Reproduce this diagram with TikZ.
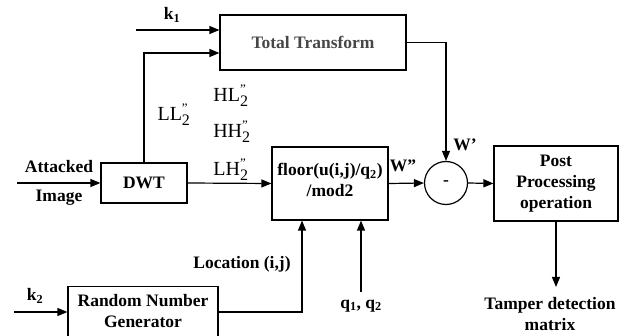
\documentclass[tikz,border=0pt]{standalone}
\usepackage{fontspec}
\setmainfont{Liberation Serif}
\usetikzlibrary{arrows.meta,calc}
\begin{document}
\begin{tikzpicture}[x=1pt,y=-1pt,
  box/.style={draw,line width=1.2pt,minimum width=#1,inner sep=0pt,align=center,
    font=\bfseries\fontsize{17.5}{21}\selectfont},
  arr/.style={line width=1.2pt,-{Triangle[length=10pt,width=8pt]}},
  ln/.style={line width=1.2pt},
  bl/.style={font=\bfseries\fontsize{17.5}{21}\selectfont,inner sep=0pt,align=center},
  rl/.style={font=\fontsize{20}{24}\selectfont,inner sep=0pt}]
\useasboundingbox (0,0) rectangle (623,336);
\newcommand\bandlab[1]{#1$^{\hbox{\fontsize{13}{13}\selectfont\symbol{34}}}_{\hbox{\fontsize{16}{16}\selectfont 2}}$}
% boxes
\node[box=186pt,minimum height=55pt,text=black!72] (tt) at (313,42.5) {Total Transform};
\node[box=86pt,minimum height=40pt] (dwt) at (144,183) {DWT};
\node[box=116pt,minimum height=73pt] (fl) at (330,183.5) {};
\node[bl] (flt) at (330,180) {floor(u(i,j)/q\textsubscript{2})\\/mod2};
\node[draw,circle,line width=1.2pt,minimum size=43pt,inner sep=0pt,font=\bfseries\fontsize{17.5}{21}\selectfont] (cir) at (446,183) {-};
\node[box=124pt,minimum height=75pt] (post) at (556,183.5) {Post\\Processing\\operation};
\node[box=150pt,minimum height=56pt,anchor=north] (rng) at (143,286) {};
\node[bl] (rngt) at (143,311.5) {Random Number\\Generator};
% free ends
\coordinate (k1s) at (136,30);
\coordinate (ins) at (17,183);
\coordinate (k2s) at (14,312);
\coordinate (qs) at (361,292);
\coordinate (tdm) at (556,287);
% connectors
\draw[arr] (k1s) -- (k1s -| tt.west);
\draw[arr] (dwt.north) |- ([yshift=-10.5pt]tt.west);
\draw[arr] (ins) -- (dwt.west);
\draw[arr] (dwt.east) -- (fl.west);
\draw[arr] (fl.east) -- (cir.west);
\draw[arr] (tt.east) -| (cir.north);
\draw[arr] (cir.east) -- (post.west);
\draw[arr] (post.south) -- (tdm);
\draw[arr] (k2s) -- (k2s -| rng.west);
\draw[arr] (k2s -| rng.east) -| ([xshift=-28pt]fl.south);
\draw[arr] (qs) -- (qs |- fl.south);
% labels
\node[bl] (k1) at (172,15) {k\textsubscript{1}};
\node[bl] (k2) at (35,296) {k\textsubscript{2}};
\node[bl] (att) at (59,167) {Attacked};
\node[bl] (img) at (59,198) {Image};
\node[rl] (ll) at (174,115) {\bandlab{LL}};
\node[rl] (hl) at (231,96) {\bandlab{HL}};
\node[rl] (hh) at (232,132) {\bandlab{HH}};
\node[rl] (lh) at (231,170) {\bandlab{LH}};
\node[bl] (wdd) at (403,166) {W"};
\node[bl] (wd) at (465,145) {W'};
\node[bl] (loc) at (242,264) {Location (i,j)};
\node[bl] (q) at (361,306) {q\textsubscript{1}, q\textsubscript{2}};
\node[bl] (tdmt) at (550,314) {Tamper detection\\matrix};
\end{tikzpicture}
\end{document}
